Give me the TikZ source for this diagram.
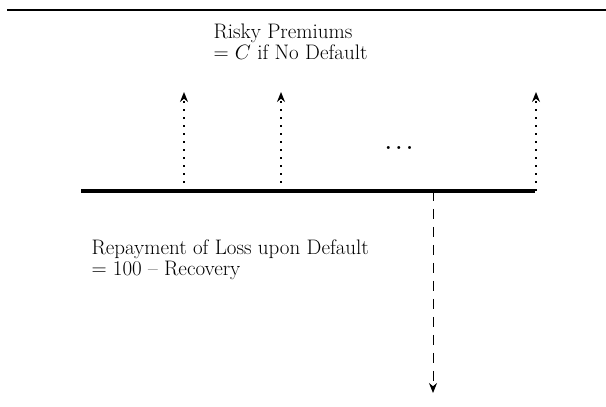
\documentclass[tikz,border=0pt]{standalone}
\usetikzlibrary{%
  arrows.meta,%
  positioning,% wg. " of "
  calc
}

\tikzset{
  premium/.style={line width=1.6pt,dash pattern=on 1.6pt off 6.4pt},
  repay/.style={line width=1pt,dash pattern=on 10pt off 8pt},
  lbl/.style={inner sep=0pt,align=left,anchor=base west},
}

\begin{document}
\begin{tikzpicture}[
  x=1pt,y=1pt,
  font=\fontsize{21}{21}\selectfont,
  >={Stealth[length=10pt,width=8pt]},
  line width=1pt,
]
\useasboundingbox (0,0) rectangle (606,407);

% rule on top
\coordinate (r0) at (7,397);
\coordinate (r1) at (606,397);
\draw[line width=2pt] (r0) -- (r1);

% time line
\coordinate (t0) at (81,216);
\coordinate (t1) at (535,216);
\draw[line width=3.5pt] (t0) -- (t1);

% premiums
\foreach \x [count=\i] in {184,281,536} {
  \coordinate (pb\i) at (\x,216);
  \coordinate (pt\i) at (\x,315);
  \draw[->,premium] (pb\i) -- (pt\i);
}
\node[anchor=base] (dots) at (399,257) {\bfseries .\hspace{4pt}.\hspace{4pt}.};
\node[lbl] (prem) at (213,347) {Risky Premiums\\= $C$ if No Default};

% loss
\coordinate (lb) at (433,216);
\coordinate (lt) at (433,14);
\draw[->,repay] (lb) -- (lt);
\node[lbl] (loss) at (91,131) {Repayment of Loss upon Default\\= 100 -- Recovery};
\end{tikzpicture}
\end{document}
